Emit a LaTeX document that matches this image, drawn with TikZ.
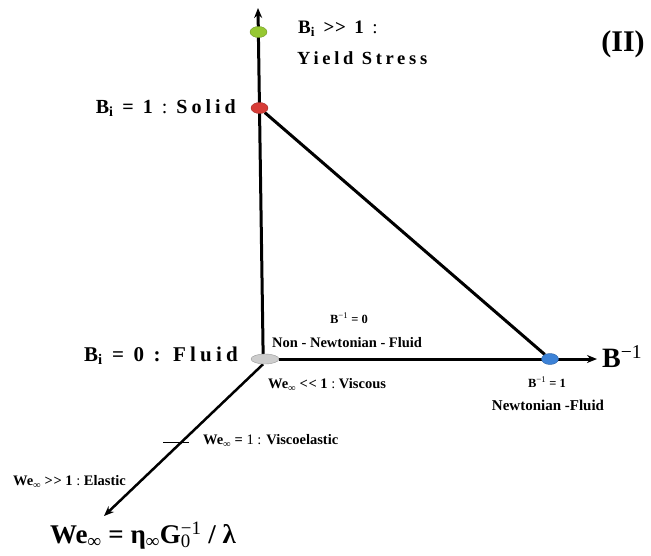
\documentclass[tikz,border=0pt]{standalone}
\usepackage{fontspec}
\setmainfont{Liberation Serif}
\newfontfamily\spaced[LetterSpace=20]{Liberation Serif}
\usetikzlibrary{positioning,arrows.meta,shapes.geometric}
\pgfdeclarelayer{bg}
\pgfsetlayers{bg,main}
\definecolor{yieldgreen}{RGB}{150,200,50}
\definecolor{solidred}{RGB}{215,60,55}
\definecolor{fluidgray}{RGB}{205,205,205}
\definecolor{newtblue}{RGB}{60,130,215}
\newcommand{\fsz}[1]{\fontsize{#1}{#1}\selectfont}
\newcommand{\mgt}{>\kern0.6pt>}
\newcommand{\mlt}{<\kern0.6pt<}
\newcommand{\Wei}{We\textsubscript{∞}}

\begin{document}
\begin{tikzpicture}[x=1pt, y=-1pt,
  dot/.style={ellipse, draw=#1!75!black, fill=#1, minimum width=17pt,
    minimum height=11pt, inner sep=0pt},
  ax/.style={line width=3pt},
  tip/.style={-{Stealth[length=10pt,width=8pt]}},
  lbl/.style={inner sep=0pt, font=\bfseries\fsz{14.5}},
  big/.style={inner sep=0pt, font=\spaced\bfseries\fsz{#1}}
]
\useasboundingbox (0,0) rectangle (651,555);

% --- states on the axes ---
\node[dot=yieldgreen] (yield) at (258.5,32) {};
\node[dot=solidred] (solid) at (259.5,108) {};
\node[dot=fluidgray, minimum width=28pt, minimum height=10pt] (fluid) at (265,359) {};
\node[dot=newtblue] (newt) at (550,359) {};

% --- free ends of the axes ---
\coordinate (ytip) at (258,8);
\coordinate (xtip) at (597,359);
\coordinate (wtip) at (104,516);
\coordinate (tick) at (176,442);

% --- axes and triangle, behind the dots ---
\begin{pgfonlayer}{bg}
\draw[ax, tip] (fluid.110) -- (ytip);
\draw[ax, tip] (fluid.east) -- (xtip);
\draw[ax] (solid) -- (newt);
\draw[line width=2.5pt, tip] (fluid.250) -- (wtip);
\draw[line width=0.9pt] ([xshift=-13pt]tick) -- ([xshift=13pt]tick);
\end{pgfonlayer}

% --- labels of the vertical axis ---
\node[big=19, anchor=west] (yieldtop) at (298,29) {B\textsubscript{i} \mgt\ 1 \mdseries:};
\node[big=18.5, anchor=west] (yieldtxt) at (297,58) {Yield Stress};
\node[big=20, anchor=east] (solidlbl) at (236,108) {B\textsubscript{i} = 1 \mdseries:\bfseries\ Solid};
\node[big=21, anchor=east] (fluidlbl) at (238,356) {B\textsubscript{i} = 0 : Fluid};
\node[inner sep=0pt, font=\bfseries\fsz{30}] (part) at (623,44) {(II)};

% --- labels of the horizontal axis ---
\node[lbl, font=\bfseries\fsz{12.5}] (bzero) at (349,318) {B\textsuperscript{\mdseries−1} = 0};
\node[lbl, anchor=west] (nonnewt) at (272,343) {Non - Newtonian - Fluid};
\node[lbl, anchor=west] (viscous) at (268,385) {\Wei\ \mlt\ 1 \mdseries:\bfseries\ Viscous};
\node[lbl, font=\bfseries\fsz{12.5}] (bone) at (547,382) {B\textsuperscript{\mdseries−1} = 1};
\node[lbl, font=\bfseries\fsz{15}] (newtlbl) at (548,405) {Newtonian -Fluid};
\node[inner sep=0pt, font=\bfseries\fsz{28}, anchor=west] (xlbl) at (602,357) {B\textsuperscript{\mdseries−1}};

% --- labels of the diagonal axis ---
\node[lbl, anchor=west] (visco) at (203,441) {\Wei\ = \mdseries 1 : \bfseries Viscoelastic};
\node[lbl, anchor=west] (elastic) at (13,482) {\Wei\ \mgt\ 1 \mdseries:\bfseries\ Elastic};
\node[inner sep=0pt, font=\bfseries\fsz{27}] (wlbl) at (143,536)
  {\Wei\ = η\textsubscript{∞}G\rlap{\textsubscript{\mdseries 0}}\textsuperscript{\mdseries −1} / λ};

\end{tikzpicture}
\end{document}
